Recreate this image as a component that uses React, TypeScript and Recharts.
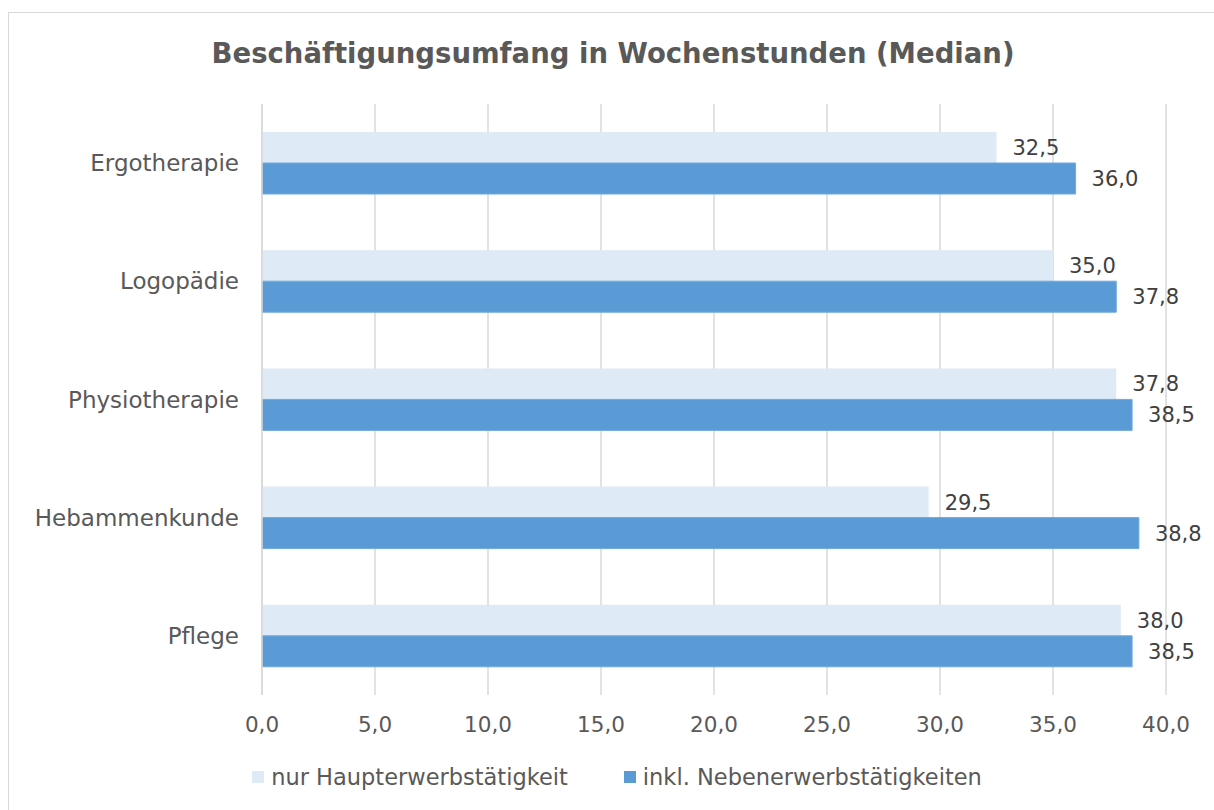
import React from 'react';
import { BarChart, Bar, XAxis, YAxis, CartesianGrid, LabelList } from 'recharts';

const categories = ['Ergotherapie', 'Logopädie', 'Physiotherapie', 'Hebammenkunde', 'Pflege'];
const nurHaupt = [32.5, 35.0, 37.8, 29.5, 38.0];
const inklNeben = [36.0, 37.8, 38.5, 38.8, 38.5];
const xTicks = [0, 5, 10, 15, 20, 25, 30, 35, 40];
const seriesNames = ['nur Haupterwerbstätigkeit', 'inkl. Nebenerwerbstätigkeiten'];
const colors = ['#DEEAF6', '#5B9BD5'];

const data = categories.map((c, i) => ({ name: c, a: nurHaupt[i], b: inklNeben[i] }));

const FONT = '"DejaVu Sans", Verdana, sans-serif';
const fmt = (v: number) => v.toFixed(1).replace('.', ',');

export default function App() {
  return (
    <div style={{ position: 'absolute', left: 0, top: 0, width: 1214, height: 810, overflow: 'hidden', background: '#fff' }}>
      <div style={{ position: 'absolute', left: 8, top: 12, width: 1240, height: 840, border: '1.5px solid #D9D9D9', boxSizing: 'border-box' }} />
      <div style={{ position: 'absolute', left: 0, top: 37, width: 1226, textAlign: 'center', fontFamily: FONT, fontWeight: 'bold', fontSize: 27.5, color: '#595959' }}>
        Beschäftigungsumfang in Wochenstunden (Median)
      </div>
      <div style={{ position: 'absolute', left: 0, top: 0 }}>
        <BarChart
          width={1214}
          height={810}
          data={data}
          layout="vertical"
          margin={{ top: 104, right: 48, bottom: 65, left: 0 }}
          barGap={0}
          barSize={31}
        >
          <CartesianGrid horizontal={false} vertical stroke="#D9D9D9" strokeWidth={1.5} />
          <XAxis
            type="number"
            domain={[0, 40]}
            ticks={xTicks}
            tickFormatter={fmt}
            axisLine={false}
            tickLine={false}
            tickSize={0}
            tickMargin={22}
            height={50}
            tick={{ fill: '#595959', fontSize: 21.5, fontFamily: FONT }}
          />
          <YAxis
            type="category"
            dataKey="name"
            width={262}
            axisLine={{ stroke: '#D9D9D9', strokeWidth: 1.5 }}
            tickLine={false}
            tickSize={0}
            tickMargin={23}
            tick={{ fill: '#595959', fontSize: 23, fontFamily: FONT }}
          />
          <Bar dataKey="a" name={seriesNames[0]} fill={colors[0]} isAnimationActive={false}>
            <LabelList dataKey="a" position="right" offset={16} formatter={(v: any) => fmt(Number(v))} style={{ fill: '#404040', fontSize: 21, fontFamily: FONT }} />
          </Bar>
          <Bar dataKey="b" name={seriesNames[1]} fill={colors[1]} stroke="#6FA8DC" strokeWidth={1} isAnimationActive={false}>
            <LabelList dataKey="b" position="right" offset={16} formatter={(v: any) => fmt(Number(v))} style={{ fill: '#404040', fontSize: 21, fontFamily: FONT }} />
          </Bar>
        </BarChart>
      </div>
      <div style={{ position: 'absolute', left: 0, top: 764, width: 1234, display: 'flex', justifyContent: 'center', gap: 56, fontFamily: FONT, fontSize: 22.5, color: '#595959' }}>
        {seriesNames.map((n, i) => (
          <div key={n} style={{ display: 'flex', alignItems: 'center' }}>
            <span style={{ display: 'inline-block', width: 12, height: 12, background: colors[i], marginRight: 7 }} />
            <span>{n}</span>
          </div>
        ))}
      </div>
    </div>
  );
}
